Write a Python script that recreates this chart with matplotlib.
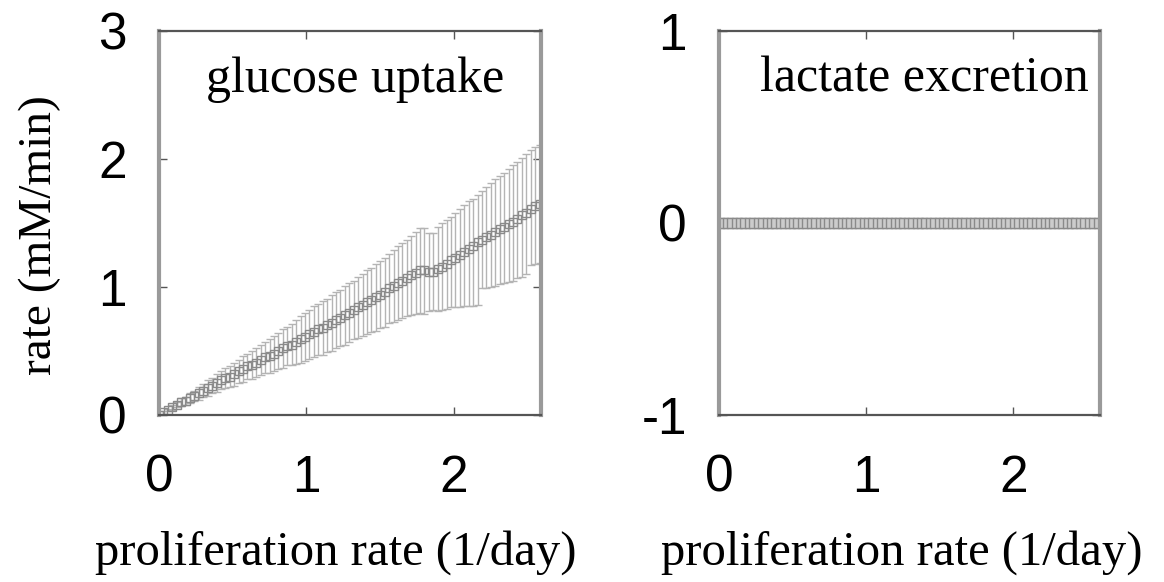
import numpy as np
import matplotlib
matplotlib.use("Agg")
import matplotlib.pyplot as plt

plt.rcParams['axes.unicode_minus'] = False

#data (proliferation rate in 1/day, rates in mM/min)
prolif = [0.00, 0.03, 0.06, 0.09, 0.12, 0.15, 0.18, 0.21, 0.24, 0.27,
          0.30, 0.33, 0.36, 0.39, 0.42, 0.45, 0.48, 0.51, 0.54, 0.57,
          0.60, 0.63, 0.66, 0.69, 0.72, 0.75, 0.78, 0.81, 0.84, 0.87,
          0.90, 0.93, 0.96, 0.99, 1.02, 1.05, 1.08, 1.11, 1.14, 1.17,
          1.20, 1.23, 1.26, 1.29, 1.32, 1.35, 1.38, 1.41, 1.44, 1.47,
          1.50, 1.53, 1.56, 1.59, 1.62, 1.65, 1.68, 1.71, 1.74, 1.77,
          1.80, 1.83, 1.86, 1.89, 1.92, 1.95, 1.98, 2.01, 2.04, 2.07,
          2.10, 2.13, 2.16, 2.19, 2.22, 2.25, 2.28, 2.31, 2.34, 2.37,
          2.40, 2.43, 2.46, 2.49, 2.52, 2.55, 2.58]

glucose = [0.00, 0.02, 0.04, 0.06, 0.08, 0.10, 0.11, 0.13, 0.15, 0.17,
           0.19, 0.21, 0.23, 0.25, 0.27, 0.29, 0.30, 0.32, 0.34, 0.36,
           0.38, 0.39, 0.41, 0.43, 0.45, 0.46, 0.48, 0.50, 0.52, 0.54,
           0.55, 0.57, 0.59, 0.61, 0.63, 0.65, 0.67, 0.68, 0.70, 0.72,
           0.74, 0.76, 0.78, 0.80, 0.82, 0.84, 0.86, 0.88, 0.90, 0.92,
           0.94, 0.96, 0.99, 1.01, 1.03, 1.05, 1.07, 1.09, 1.11, 1.13,
           1.13, 1.12, 1.12, 1.14, 1.16, 1.18, 1.21, 1.23, 1.25, 1.27,
           1.30, 1.32, 1.35, 1.37, 1.39, 1.41, 1.43, 1.45, 1.47, 1.49,
           1.51, 1.53, 1.56, 1.58, 1.61, 1.63, 1.65]

glucose_err_hi = [0.00, 0.01, 0.01, 0.02, 0.02, 0.03, 0.03, 0.04, 0.04, 0.05,
                  0.05, 0.06, 0.06, 0.07, 0.07, 0.08, 0.08, 0.09, 0.09, 0.10,
                  0.10, 0.11, 0.11, 0.12, 0.12, 0.13, 0.14, 0.14, 0.15, 0.15,
                  0.16, 0.17, 0.18, 0.19, 0.19, 0.20, 0.20, 0.21, 0.21, 0.22,
                  0.22, 0.22, 0.23, 0.23, 0.23, 0.24, 0.24, 0.25, 0.25, 0.26,
                  0.26, 0.27, 0.27, 0.28, 0.29, 0.29, 0.30, 0.31, 0.32, 0.33,
                  0.33, 0.30, 0.30, 0.33, 0.34, 0.34, 0.34, 0.35, 0.36, 0.37,
                  0.37, 0.37, 0.37, 0.38, 0.39, 0.40, 0.41, 0.42, 0.42, 0.43,
                  0.44, 0.45, 0.45, 0.46, 0.46, 0.46, 0.46]

glucose_err_lo = [0.00, 0.01, 0.01, 0.02, 0.02, 0.03, 0.03, 0.04, 0.04, 0.05,
                  0.05, 0.06, 0.06, 0.07, 0.07, 0.08, 0.08, 0.09, 0.09, 0.10,
                  0.10, 0.11, 0.11, 0.12, 0.12, 0.13, 0.14, 0.14, 0.15, 0.15,
                  0.16, 0.17, 0.18, 0.19, 0.19, 0.20, 0.20, 0.21, 0.21, 0.22,
                  0.22, 0.22, 0.23, 0.23, 0.23, 0.24, 0.24, 0.25, 0.25, 0.26,
                  0.26, 0.27, 0.27, 0.28, 0.29, 0.29, 0.30, 0.31, 0.32, 0.33,
                  0.34, 0.31, 0.30, 0.33, 0.34, 0.35, 0.37, 0.39, 0.41, 0.42,
                  0.45, 0.47, 0.49, 0.38, 0.40, 0.41, 0.42, 0.43, 0.44, 0.45,
                  0.46, 0.46, 0.48, 0.48, 0.44, 0.45, 0.46]

lactate = [0.0] * len(prolif)
lactate_err = [0.00] * 32 + [0.02] * 12 + [0.00] * 43

titles = ["glucose uptake", "lactate excretion"]
xlab = "proliferation rate (1/day)"
ylab = "rate (mM/min)"

W, H = 1164, 582
fig = plt.figure(figsize=(W / 100.0, H / 100.0), dpi=100)

#axes boxes in pixels: left, right, top, bottom
boxes = [(159, 541, 31, 415), (719, 1100, 31, 415)]
axs = []
for l, r, t, b in boxes:
    axs.append(fig.add_axes([l / W, 1 - b / H, (r - l) / W, (b - t) / H]))

barcol = '#b4b4b4'
markcol = '#8a8a8a'

ax = axs[0]
ax.errorbar(prolif, glucose, yerr=[glucose_err_lo, glucose_err_hi], fmt='s',
            ms=6, mfc='none', mec=markcol, mew=1.0, ecolor=barcol,
            elinewidth=1.0, capsize=3, capthick=1.0)
ax.set_ylim(0, 3)
ax.set_yticks([0, 1, 2, 3])

ax = axs[1]
ax.errorbar(prolif, lactate, yerr=lactate_err, fmt='s',
            ms=6.5, mfc='#cccccc', mec=markcol, mew=1.0, ecolor=barcol,
            elinewidth=1.0, capsize=3, capthick=1.0)
ax.set_ylim(-1, 1)
ax.set_yticks([-1, 0, 1])

for i, ax in enumerate(axs):
    ax.set_xlim(0, 2.59)
    ax.set_xticks([0, 1, 2])
    for side in ['left', 'right']:
        ax.spines[side].set_color('#9a9a9a')
        ax.spines[side].set_linewidth(3)
    for side in ['top', 'bottom']:
        ax.spines[side].set_color('#555555')
        ax.spines[side].set_linewidth(1.6)
    ax.tick_params(direction='in', length=6, width=1, color='#555555',
                   top=True, right=True, labelsize=37)
    ax.tick_params(axis='x', pad=28)
    ax.tick_params(axis='y', pad=23)
    for lab in ax.get_xticklabels() + ax.get_yticklabels():
        lab.set_family('Liberation Sans')
    ax.text(0.513 if i == 0 else 0.54, 0.842, titles[i], transform=ax.transAxes,
            ha='center', va='baseline', fontsize=36, family='Liberation Serif')

fig.text(336 / W, 1 - 565 / H, xlab, ha='center', va='baseline',
         fontsize=35, family='Liberation Serif')
fig.text(902 / W, 1 - 565 / H, xlab, ha='center', va='baseline',
         fontsize=35, family='Liberation Serif')
fig.text(40 / W, 1 - 235 / H, ylab, ha='center', va='center', rotation=90,
         fontsize=34, family='Liberation Serif')

fig.savefig("out.png", dpi=100)
